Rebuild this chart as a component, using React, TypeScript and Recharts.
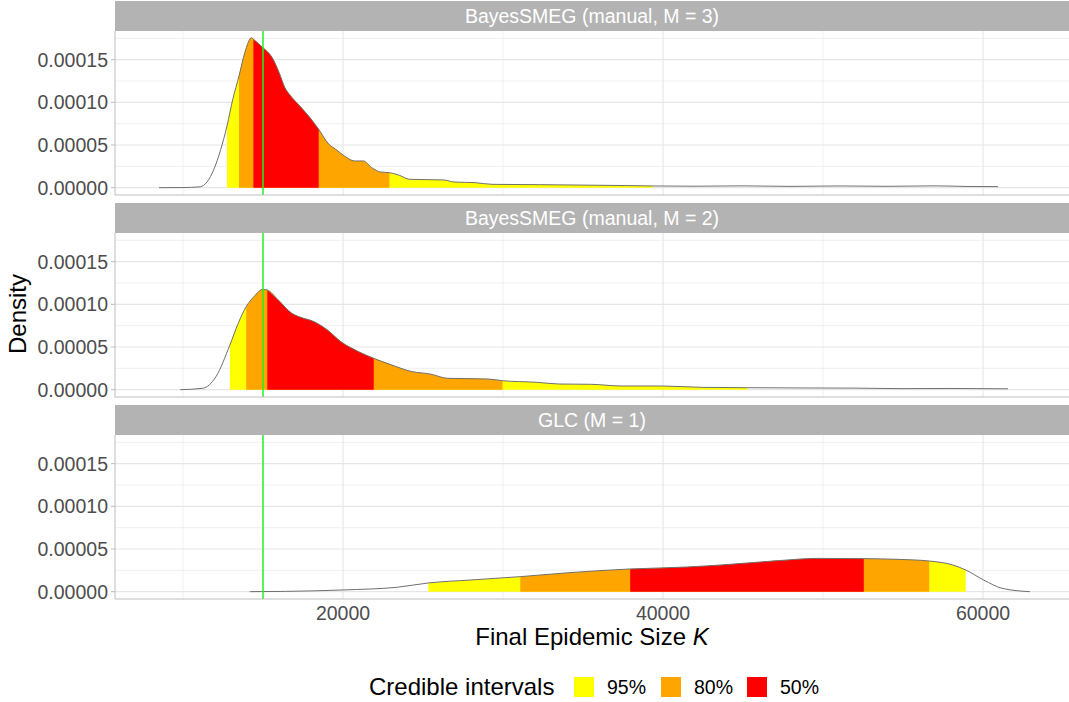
import React from 'react';
import { ComposedChart, Area, Line, XAxis, YAxis, CartesianGrid, ReferenceLine } from 'recharts';

// ---------- data ----------
const panelTitles = ['BayesSMEG (manual, M = 3)', 'BayesSMEG (manual, M = 2)', 'GLC (M = 1)'];
const intervalLabels = ['95%', '80%', '50%'];
const intervalColors = ['#FFFF00', '#FFA500', '#FF0000'];
const yTicks = [0, 0.00005, 0.0001, 0.00015];
const yMinorTicks = [0.000025, 0.000075, 0.000125, 0.000175];
const xTicks = [20000, 40000, 60000];
const xMinorTicks = [10000, 30000, 50000];
const trueEpidemicSize = 15000;

// BayesSMEG (manual, M = 3)
const m3K = [8500, 10000, 11070, 11500, 11930, 12360, 12750, 13110, 13500, 13860, 14290, 14400, 15000, 15580, 16010, 16370, 16650, 17300, 17940, 18480, 19120, 19550, 20090, 20730, 21270, 21800, 22340, 22900, 23520, 24160, 26310, 26950, 28240, 29310, 32280, 35000, 37500, 39375, 42000, 45000, 48000, 51000, 54000, 57000, 59000, 60940];
const m3Density = [0, 0.0000001, 0.000001, 0.0000066, 0.0000215, 0.0000449, 0.0000723, 0.0001035, 0.0001309, 0.0001582, 0.0001758, 0.000174, 0.000164, 0.0001523, 0.0001348, 0.0001172, 0.0001094, 0.0000957, 0.000082, 0.0000684, 0.0000508, 0.0000449, 0.0000371, 0.0000313, 0.0000313, 0.0000234, 0.0000184, 0.0000176, 0.0000145, 0.0000098, 0.000009, 0.0000066, 0.0000059, 0.0000039, 0.0000035, 0.000003, 0.0000025, 0.000002, 0.0000017, 0.0000021, 0.0000015, 0.000002, 0.0000016, 0.0000021, 0.0000014, 0.0000012];
const m3Bounds95 = [12750, 39375];
const m3Bounds80 = [13500, 22900];
const m3Bounds50 = [14400, 18480];

// BayesSMEG (manual, M = 2)
const m2K = [9830, 11230, 12060, 12930, 13450, 13950, 14430, 15010, 15270, 15960, 16800, 17350, 18190, 19030, 19860, 20980, 21920, 22930, 24320, 25430, 26550, 29050, 29970, 32120, 33510, 35460, 37410, 39920, 42420, 45290, 48500, 52000, 55000, 58000, 61560];
const m2Density = [0, 0.0000016, 0.0000152, 0.0000523, 0.0000777, 0.0000973, 0.000109, 0.0001176, 0.0001168, 0.000105, 0.0000895, 0.0000848, 0.0000797, 0.0000699, 0.0000563, 0.0000445, 0.0000367, 0.0000297, 0.0000211, 0.0000184, 0.0000133, 0.0000125, 0.0000105, 0.0000086, 0.0000066, 0.0000063, 0.0000043, 0.0000043, 0.0000027, 0.0000023, 0.000002, 0.0000018, 0.0000012, 0.0000014, 0.000001];
const m2Bounds95 = [12930, 45290];
const m2Bounds80 = [13950, 29970];
const m2Bounds50 = [15270, 21920];

// GLC (M = 1)
const m1K = [14170, 16400, 20000, 23360, 25330, 28000, 31080, 34170, 37950, 41500, 43440, 47300, 49600, 52550, 54630, 56640, 58110, 58920, 60040, 61200, 62930];
const m1Density = [0, 0.0000003, 0.000002, 0.0000051, 0.0000102, 0.0000137, 0.0000176, 0.0000223, 0.0000266, 0.0000289, 0.000031, 0.0000365, 0.000039, 0.0000387, 0.0000379, 0.0000359, 0.0000313, 0.0000254, 0.0000137, 0.0000039, 0];
const m1Bounds95 = [25330, 58920];
const m1Bounds80 = [31080, 56640];
const m1Bounds50 = [37950, 52550];

// ---------- layout ----------
const W = 1069;
const PANEL_H = 164;
const Y_AXIS_W = 115;
const X_AXIS_H = 30;
const EXTRA_BOTTOM = 8;
const X_DOMAIN: [number, number] = [5750, 65375];
const Y_DOMAIN: [number, number] = [-0.0000086, 0.0001836];
const panelTops = [31, 233, 435];
const STRIP_H = 30;
const FONT = '"Liberation Sans", Arial, Helvetica, sans-serif';
const GRID_COLOR = '#E6E6E6';
const AXIS_COLOR = '#BDBDBD';

function buildRows(k: number[], dens: number[], b95: number[], b80: number[], b50: number[]) {
  const inside = (x: number, b: number[]) => x >= b[0] && x <= b[1];
  return k.map((x, i) => ({
    k: x,
    density: dens[i],
    ci95: inside(x, b95) ? dens[i] : null,
    ci80: inside(x, b80) ? dens[i] : null,
    ci50: inside(x, b50) ? dens[i] : null,
  }));
}

const panelRows = [
  buildRows(m3K, m3Density, m3Bounds95, m3Bounds80, m3Bounds50),
  buildRows(m2K, m2Density, m2Bounds95, m2Bounds80, m2Bounds50),
  buildRows(m1K, m1Density, m1Bounds95, m1Bounds80, m1Bounds50),
];
const bandKeys = ['ci95', 'ci80', 'ci50'];

function Panel({ rows, showX, top }: { rows: any[]; showX: boolean; top: number }) {
  const axisH = showX ? X_AXIS_H : 1;
  const bottom = showX ? 0 : EXTRA_BOTTOM;
  const h = PANEL_H + axisH + bottom;
  return (
    <div style={{ position: 'absolute', left: 0, top, width: W, height: h }}>
      <ComposedChart width={W} height={h} data={rows} margin={{ top: 0, right: 0, bottom, left: 0 }}>
        <CartesianGrid horizontalValues={yMinorTicks} verticalValues={xMinorTicks} stroke={GRID_COLOR} strokeWidth={0.6} />
        <CartesianGrid horizontalValues={yTicks} verticalValues={xTicks} stroke={GRID_COLOR} strokeWidth={1.1} />
        <XAxis
          dataKey="k"
          type="number"
          domain={X_DOMAIN}
          allowDataOverflow
          ticks={xTicks}
          interval={0}
          height={axisH}
          tick={{ fill: '#4D4D4D', fontSize: 19.5 }}
          tickFormatter={(v: number) => (showX ? String(v) : '')}
          tickLine={false}
          tickSize={3}
          tickMargin={4}
          axisLine={{ stroke: AXIS_COLOR, strokeWidth: 1 }}
        />
        <YAxis
          type="number"
          domain={Y_DOMAIN}
          allowDataOverflow
          ticks={yTicks}
          interval={0}
          width={Y_AXIS_W}
          tickFormatter={(v: number) => v.toFixed(5)}
          tick={{ fill: '#4D4D4D', fontSize: 19.5 }}
          tickLine={{ stroke: AXIS_COLOR }}
          tickSize={4}
          tickMargin={3}
          axisLine={{ stroke: AXIS_COLOR, strokeWidth: 1 }}
        />
        {bandKeys.map((key, i) => (
          <Area
            key={key}
            dataKey={key}
            type="monotone"
            fill={intervalColors[i]}
            fillOpacity={1}
            stroke="none"
            baseValue={0}
            connectNulls={false}
            isAnimationActive={false}
          />
        ))}
        <Line dataKey="density" type="monotone" stroke="#707070" strokeWidth={1} dot={false} activeDot={false} isAnimationActive={false} />
        <ReferenceLine x={trueEpidemicSize} stroke="#22F022" strokeWidth={1.5} />
      </ComposedChart>
    </div>
  );
}

export default function App() {
  return (
    <div style={{ position: 'absolute', left: 0, top: 0, width: W, height: 702, background: '#FFFFFF', fontFamily: FONT, overflow: 'hidden' }}>
      {panelTitles.map((title, i) => (
        <div
          key={title}
          style={{
            position: 'absolute',
            left: Y_AXIS_W,
            top: panelTops[i] - STRIP_H,
            width: W - Y_AXIS_W,
            height: STRIP_H,
            background: '#B3B3B3',
            color: '#FFFFFF',
            fontSize: 19.5,
            lineHeight: `${STRIP_H}px`,
            textAlign: 'center',
          }}
        >
          {title}
        </div>
      ))}
      {panelRows.map((rows, i) => (
        <Panel key={i} rows={rows} showX={i === 2} top={panelTops[i]} />
      ))}
      <div
        style={{
          position: 'absolute',
          left: 17.5 - 100,
          top: 313.5 - 14,
          width: 200,
          height: 28,
          lineHeight: '28px',
          fontSize: 24,
          textAlign: 'center',
          color: '#000',
          transform: 'rotate(-90deg)',
        }}
      >
        Density
      </div>
      <div
        style={{
          position: 'absolute',
          left: Y_AXIS_W,
          top: 623,
          width: W - Y_AXIS_W,
          height: 28,
          lineHeight: '28px',
          fontSize: 24,
          textAlign: 'center',
          color: '#000',
        }}
      >
        Final Epidemic Size <i>K</i>
      </div>
      <div style={{ position: 'absolute', left: 369, top: 673, height: 28, lineHeight: '28px', fontSize: 24, color: '#000', whiteSpace: 'nowrap' }}>
        Credible intervals
      </div>
      {intervalLabels.map((lab, i) => (
        <React.Fragment key={lab}>
          <div style={{ position: 'absolute', left: [574, 661, 747][i], top: 677, width: 20, height: 20, background: intervalColors[i] }} />
          <div style={{ position: 'absolute', left: [607, 694, 780][i], top: 675, height: 24, lineHeight: '24px', fontSize: 19.5, color: '#000', whiteSpace: 'nowrap' }}>
            {lab}
          </div>
        </React.Fragment>
      ))}
    </div>
  );
}
